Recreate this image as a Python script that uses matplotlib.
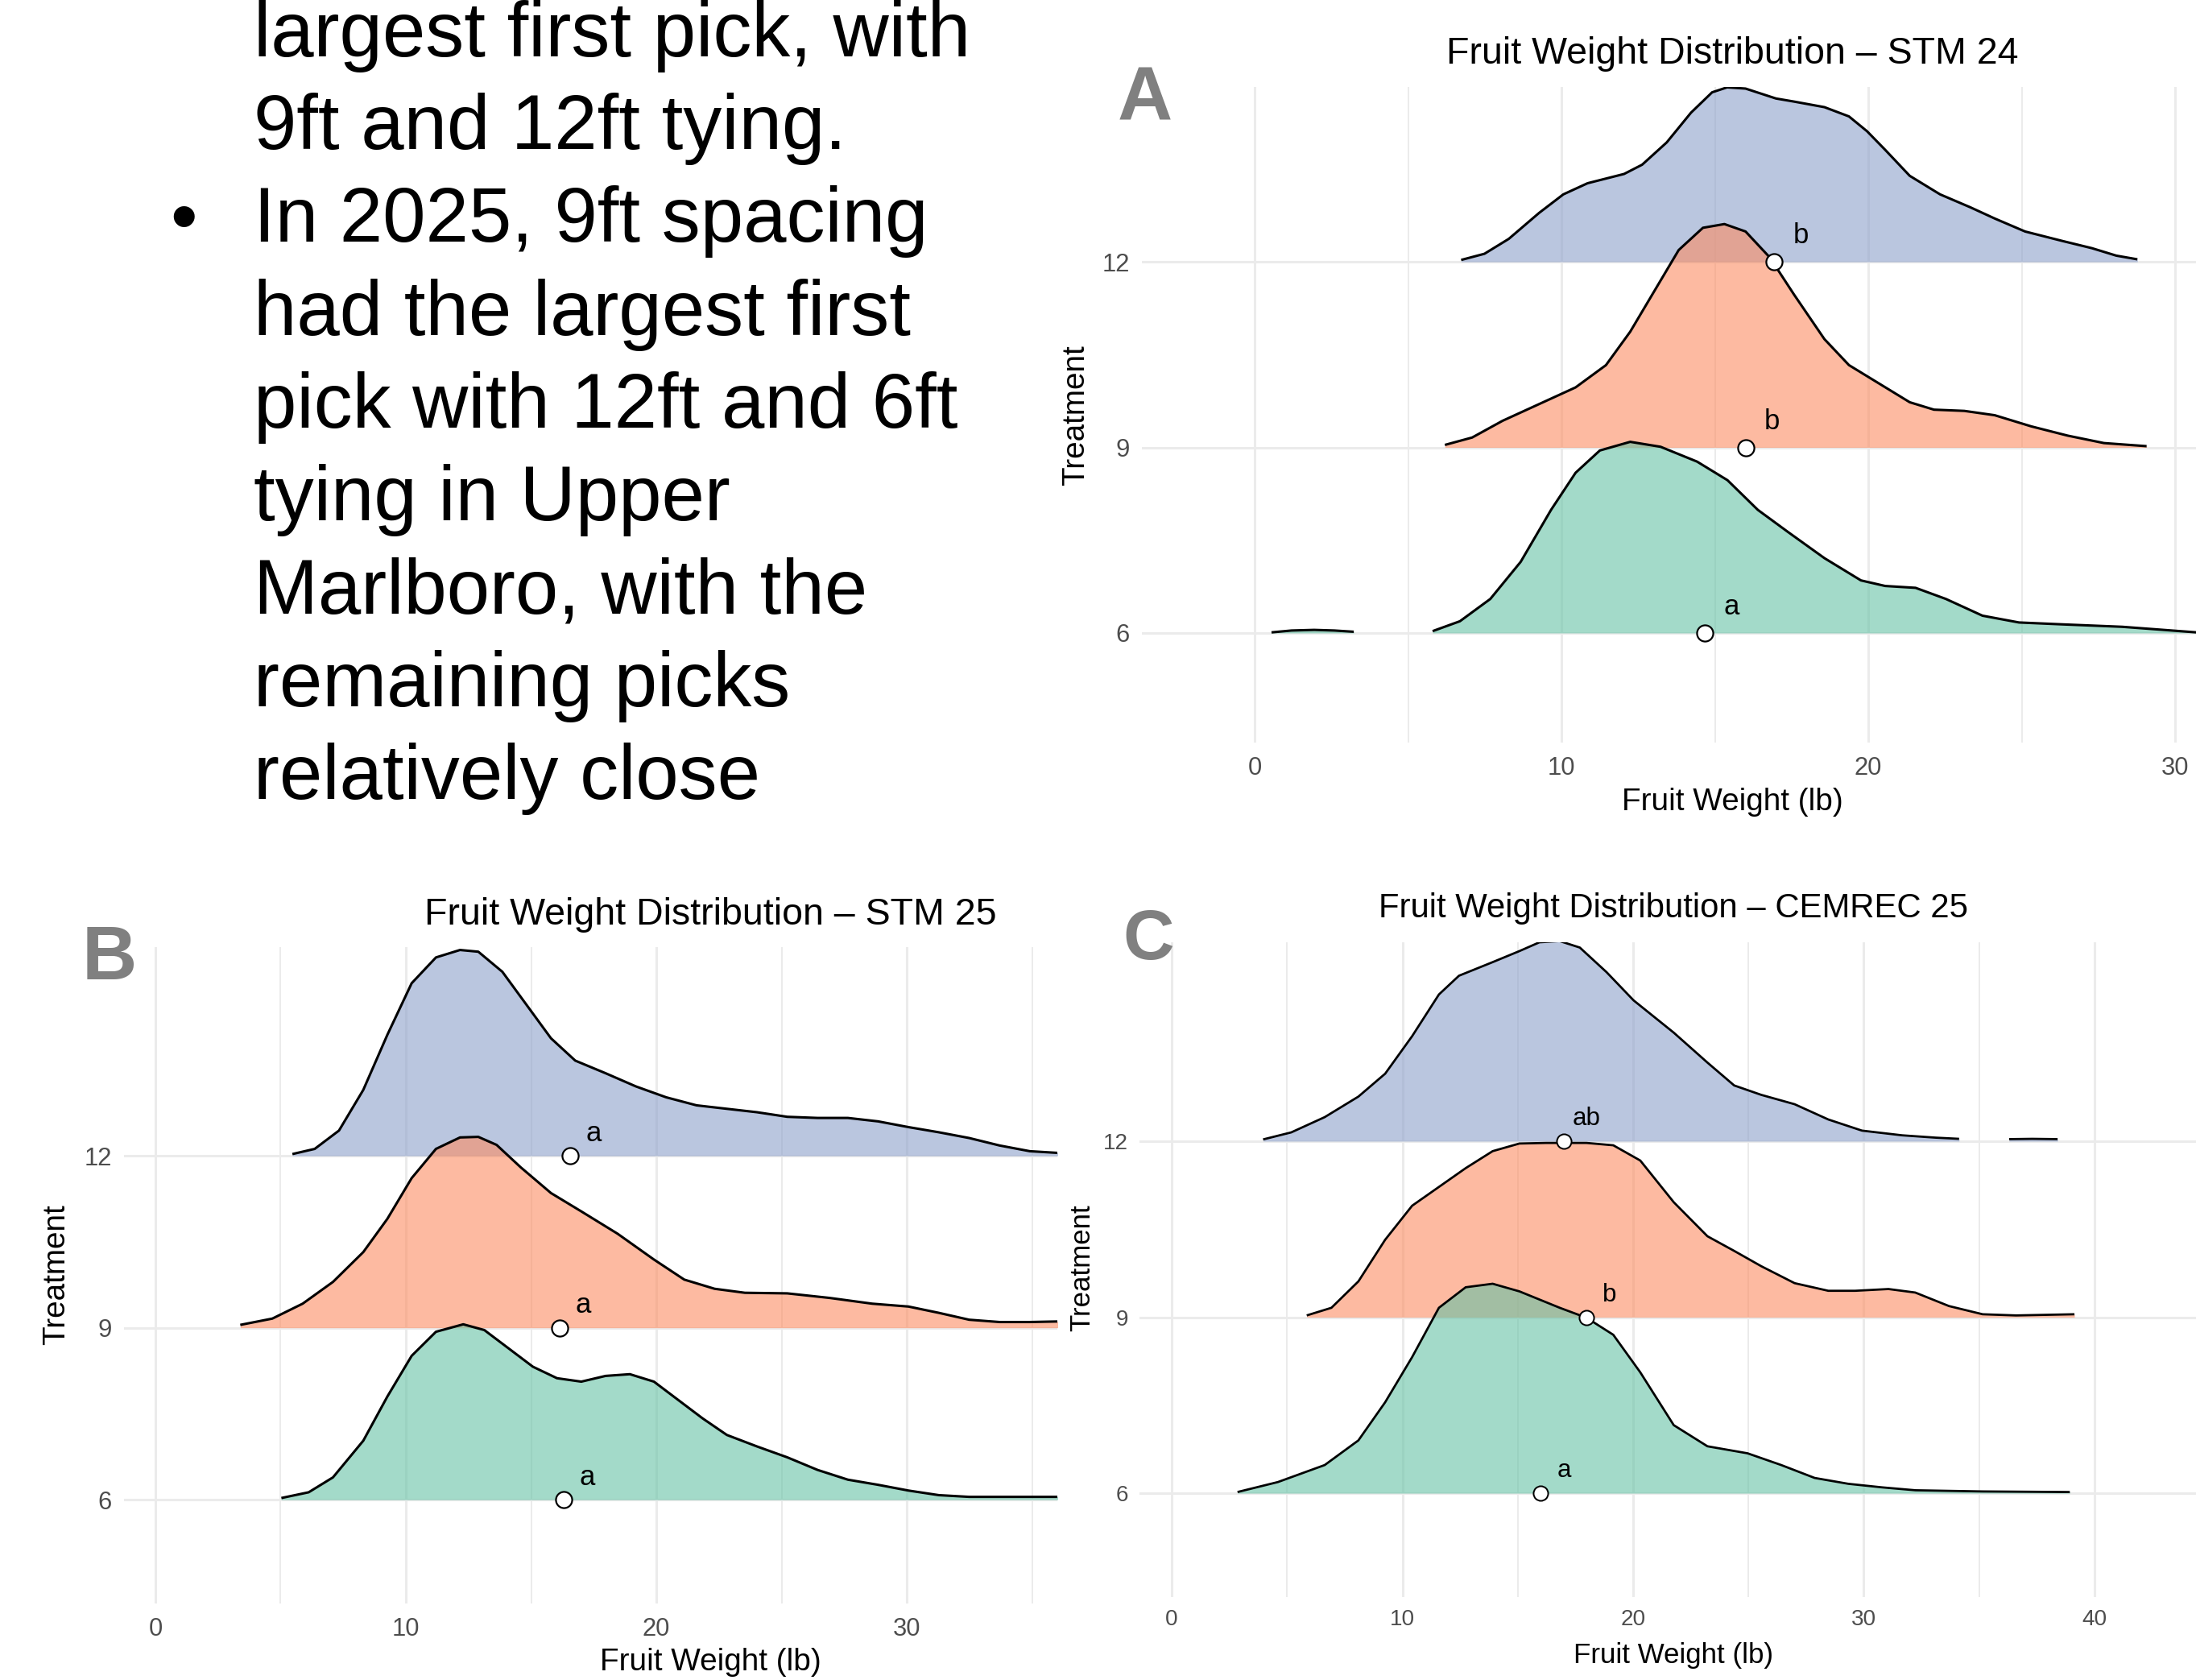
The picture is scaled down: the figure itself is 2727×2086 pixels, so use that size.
import matplotlib
matplotlib.use("Agg")
import matplotlib.pyplot as plt

plt.rcParams['font.family'] = ['Liberation Sans', 'DejaVu Sans']

# ---------------- text block ----------------
bullet_lines = ["largest first pick, with", "9ft and 12ft tying.", "In 2025, 9ft spacing",
                "had the largest first", "pick with 12ft and 6ft", "tying in Upper",
                "Marlboro, with the", "remaining picks", "relatively close"]
bullet_line_index = 2

# ---------------- shared ----------------
treatments = [6, 9, 12]
tick_labels_y = ["6", "9", "12"]
colors = {12: '#8DA0CB', 9: '#FC8D62', 6: '#66C2A5'}

# ---------------- Panel A: STM 24 ----------------
A12_x = [6.73, 7.49, 8.28, 9.27, 10.06, 10.85, 12.04, 12.63, 13.43, 14.22, 14.91, 15.4, 16.0, 16.99,
         17.58, 18.57, 19.37, 19.96, 20.55, 21.35, 22.34, 23.33, 24.12, 25.11, 26.30, 27.29, 28.08, 28.77]
A12_h = [0.03, 0.13, 0.37, 0.79, 1.09, 1.27, 1.42, 1.57, 1.93, 2.41, 2.74, 2.82, 2.80, 2.64,
         2.59, 2.50, 2.35, 2.11, 1.81, 1.39, 1.09, 0.88, 0.70, 0.49, 0.34, 0.22, 0.10, 0.04]
A9_x = [6.2, 7.09, 8.08, 9.27, 10.46, 11.45, 12.24, 13.03, 13.82, 14.61, 15.31, 16.0, 16.79, 17.58,
        18.57, 19.37, 20.36, 21.35, 22.14, 23.13, 24.12, 25.31, 26.5, 27.68, 29.07]
A9_h = [0.04, 0.16, 0.43, 0.70, 0.97, 1.33, 1.87, 2.53, 3.19, 3.55, 3.61, 3.49, 3.07, 2.47,
        1.75, 1.33, 1.03, 0.73, 0.61, 0.59, 0.52, 0.34, 0.19, 0.07, 0.02]
A6_x = [5.80, 6.69, 7.68, 8.67, 9.66, 10.46, 11.25, 12.24, 13.23, 14.42, 15.41, 16.4, 17.39, 18.57,
        19.76, 20.55, 21.54, 22.53, 23.72, 24.91, 26.3, 28.28, 30.7]
A6_h = [0.03, 0.19, 0.55, 1.15, 1.99, 2.59, 2.95, 3.09, 3.01, 2.77, 2.47, 1.99, 1.63, 1.21,
        0.85, 0.76, 0.73, 0.55, 0.28, 0.17, 0.14, 0.10, 0.01]
A6b_x = [0.55, 1.2, 1.94, 2.6, 3.23]
A6b_h = [0.01, 0.04, 0.05, 0.04, 0.02]
A_means = [14.67, 16.0, 16.93]
A_letters = ["a", "b", "b"]

# ---------------- Panel B: STM 25 ----------------
B12_x = [5.47, 6.36, 7.33, 8.3, 9.26, 10.23, 11.2, 12.16, 12.89, 13.85, 14.82, 15.79, 16.76, 17.97,
         19.18, 20.39, 21.6, 22.8, 24.01, 25.22, 26.43, 27.64, 28.85, 30.06, 31.27, 32.48, 33.69, 34.9, 36.03]
B12_h = [0.03, 0.12, 0.44, 1.15, 2.11, 3.01, 3.46, 3.59, 3.56, 3.21, 2.63, 2.05, 1.66, 1.44,
         1.21, 1.02, 0.88, 0.82, 0.76, 0.68, 0.66, 0.66, 0.60, 0.50, 0.41, 0.31, 0.18, 0.08, 0.05]
B9_x = [3.39, 4.67, 5.88, 7.09, 8.3, 9.26, 10.23, 11.2, 12.16, 12.89, 13.62, 14.58, 15.79, 17.0,
        18.45, 19.9, 21.11, 22.32, 23.53, 25.22, 26.92, 28.61, 30.06, 31.27, 32.48, 33.69, 34.9, 36.03]
B9_h = [0.05, 0.16, 0.42, 0.80, 1.32, 1.90, 2.61, 3.12, 3.32, 3.33, 3.19, 2.80, 2.35, 2.03,
        1.64, 1.19, 0.84, 0.68, 0.61, 0.60, 0.52, 0.42, 0.37, 0.26, 0.14, 0.10, 0.10, 0.11]
B6_x = [5.03, 6.12, 7.09, 8.3, 9.26, 10.23, 11.2, 12.29, 13.13, 14.1, 15.07, 16.03, 17.0, 17.97,
        18.94, 19.9, 20.87, 21.84, 22.81, 24.01, 25.22, 26.43, 27.64, 28.85, 30.06, 31.27, 32.48, 36.03]
B6_h = [0.03, 0.13, 0.39, 1.03, 1.80, 2.51, 2.93, 3.06, 2.96, 2.64, 2.32, 2.12, 2.06, 2.16,
        2.19, 2.06, 1.74, 1.42, 1.13, 0.93, 0.74, 0.52, 0.35, 0.26, 0.16, 0.08, 0.05, 0.05]
B_means = [16.3, 16.15, 16.54]
B_letters = ["a", "a", "a"]

# ---------------- Panel C: CEMREC 25 ----------------
C12_x = [3.96, 5.18, 6.63, 8.09, 9.25, 10.42, 11.58, 12.45, 13.9, 15.07, 15.94, 16.82, 17.69, 18.85,
         20.02, 21.76, 23.22, 24.38, 25.55, 27.0, 28.46, 29.92, 31.66, 33.12, 34.13]
C12_h = [0.03, 0.15, 0.41, 0.76, 1.15, 1.79, 2.50, 2.82, 3.05, 3.24, 3.39, 3.41, 3.30, 2.88,
         2.40, 1.85, 1.34, 0.95, 0.79, 0.63, 0.37, 0.18, 0.10, 0.06, 0.04]
C12b_x = [36.3, 37.3, 38.4]
C12b_h = [0.035, 0.04, 0.035]
C9_x = [5.85, 6.92, 8.09, 9.25, 10.42, 11.58, 12.74, 13.91, 15.07, 16.23, 17.98, 19.14, 20.31, 21.76,
        23.22, 24.38, 25.55, 27.0, 28.46, 29.62, 31.07, 32.23, 33.69, 35.15, 36.6, 39.13]
C9_h = [0.03, 0.16, 0.61, 1.32, 1.90, 2.22, 2.54, 2.83, 2.96, 2.97, 2.97, 2.93, 2.67, 1.96,
        1.38, 1.13, 0.87, 0.58, 0.45, 0.45, 0.48, 0.42, 0.19, 0.05, 0.03, 0.05]
C6_x = [2.85, 4.6, 6.63, 8.09, 9.25, 10.42, 11.58, 12.74, 13.91, 15.07, 16.82, 17.98, 19.14, 20.31,
        21.76, 23.22, 24.96, 26.42, 27.87, 29.33, 30.78, 32.24, 35.15, 38.93]
C6_h = [0.02, 0.19, 0.48, 0.90, 1.55, 2.32, 3.16, 3.51, 3.57, 3.44, 3.16, 2.99, 2.70, 2.06,
        1.16, 0.80, 0.68, 0.48, 0.26, 0.16, 0.10, 0.05, 0.03, 0.02]
C_means = [16.0, 17.98, 16.99]
C_letters = ["a", "b", "ab"]

panels = [
    dict(tag="A", title="Fruit Weight Distribution \u2013 STM 24",
         ridges={12: [(A12_x, A12_h)], 9: [(A9_x, A9_h)], 6: [(A6_x, A6_h), (A6b_x, A6b_h)]},
         means=A_means, letters=A_letters,
         xticks=[0, 10, 20, 30], minor=[5, 15, 25],
         rect=(1418, 108, 2727, 922), xlim=(-3.675, 30.68), ylim=(4.229, 14.826),
         title_xy=(2151, 67), xlabel_xy=(2151, 996), ylabel_xy=(1336, 516), tag_xy=(1422, 125),
         scale=1.0, label_off=(0.87, 0.42)),
    dict(tag="B", title="Fruit Weight Distribution \u2013 STM 25",
         ridges={12: [(B12_x, B12_h)], 9: [(B9_x, B9_h)], 6: [(B6_x, B6_h)]},
         means=B_means, letters=B_letters,
         xticks=[0, 10, 20, 30], minor=[5, 15, 25, 35],
         rect=(154, 1176, 1313, 1991), xlim=(-1.25, 36.0), ylim=(4.19, 15.64),
         title_xy=(882, 1136), xlabel_xy=(882, 2064), ylabel_xy=(70, 1583), tag_xy=(136, 1191),
         scale=1.0, label_off=(0.94, 0.39)),
    dict(tag="C", title="Fruit Weight Distribution \u2013 CEMREC 25",
         ridges={12: [(C12_x, C12_h), (C12b_x, C12b_h)], 9: [(C9_x, C9_h)], 6: [(C6_x, C6_h)]},
         means=C_means, letters=C_letters,
         xticks=[0, 10, 20, 30, 40], minor=[5, 15, 25, 35],
         rect=(1415, 1170, 2727, 1983), xlim=(-1.40, 44.4), ylim=(4.23, 15.39),
         title_xy=(2078, 1128), xlabel_xy=(2078, 2055), ylabel_xy=(1344, 1574), tag_xy=(1426, 1169),
         scale=0.9, label_off=(1.0, 0.38)),
]

W, H = 2727, 2086
fig = plt.figure(figsize=(W / 100, H / 100), dpi=100)
fig.patch.set_facecolor('white')


def fx(x):
    return x / W


def fy(y):
    return 1 - y / H


# text block
line_step = 115.25
base0 = 70
for i, line in enumerate(bullet_lines):
    fig.text(fx(315), fy(base0 + i * line_step), line, fontsize=69, va='baseline', ha='left', color='black')
fig.text(fx(228), fy(base0 + bullet_line_index * line_step), "\u2022", fontsize=69, va='baseline',
         ha='center', color='black')

for p in panels:
    s = p["scale"]
    l, t, r, b = p["rect"]
    ax = fig.add_axes([fx(l), fy(b), (r - l) / W, (b - t) / H])
    ax.set_facecolor('none')
    for sp in ax.spines.values():
        sp.set_visible(False)
    ax.set_xlim(*p["xlim"])
    ax.set_ylim(*p["ylim"])
    ax.set_xticks(p["xticks"])
    ax.set_xticks(p["minor"], minor=True)
    ax.set_yticks(treatments)
    ax.set_yticklabels(tick_labels_y)
    ax.grid(which='major', color='#EBEBEB', lw=2.2)
    ax.grid(which='minor', axis='x', color='#EBEBEB', lw=1.4)
    ax.set_axisbelow(True)
    ax.tick_params(which='both', length=0, labelsize=22.3 * s, colors='#4D4D4D')
    ax.tick_params(axis='x', pad=12 * s)
    ax.tick_params(axis='y', pad=11 * s)

    z = 2
    for lvl in [12, 9, 6]:
        for xs, hs in p["ridges"][lvl]:
            top = [lvl + h for h in hs]
            ax.fill_between(xs, [lvl] * len(xs), top, color=colors[lvl], alpha=0.6, lw=0, zorder=z)
            ax.plot(xs, top, color='black', lw=2.2 * s, zorder=z + 0.5,
                    solid_capstyle='butt', solid_joinstyle='round')
        z += 1
    ax.plot(p["means"], treatments, 'o', mfc='white', mec='black', ms=14.5 * s, mew=1.6 * s, zorder=10)
    dx, dy = p["label_off"]
    for m, lvl, let in zip(p["means"], treatments, p["letters"]):
        ax.text(m + dx, lvl + dy, let, fontsize=25 * s, ha='center', va='center', zorder=11)

    fig.text(fx(p["title_xy"][0]), fy(p["title_xy"][1]), p["title"], fontsize=33.5 * s,
             ha='center', va='center')
    fig.text(fx(p["xlabel_xy"][0]), fy(p["xlabel_xy"][1]), "Fruit Weight (lb)", fontsize=27.9 * s,
             ha='center', va='center')
    fig.text(fx(p["ylabel_xy"][0]), fy(p["ylabel_xy"][1]), "Treatment", fontsize=27.9 * s,
             ha='center', va='center', rotation=90)
    fig.text(fx(p["tag_xy"][0]), fy(p["tag_xy"][1]), p["tag"], fontsize=68 * (1 if s == 1 else 0.93),
             fontweight='bold', color='#808080', ha='center', va='center')

fig.savefig("out.png", dpi=100, facecolor='white')
